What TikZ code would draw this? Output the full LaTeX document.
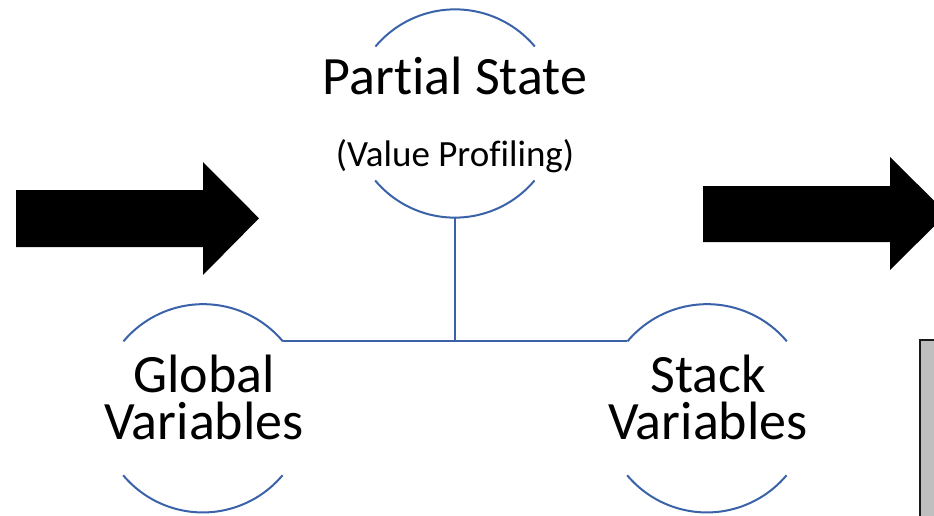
\documentclass[tikz,border=0pt]{standalone}
\usepackage{fontspec}
\setmainfont[Ligatures=NoCommon]{Carlito}
\definecolor{linkblue}{HTML}{3A62A8}
\definecolor{panelgray}{HTML}{BFBFBF}
\definecolor{paneledge}{HTML}{1A1A1A}
\begin{document}
\begin{tikzpicture}[x=1pt,y=-1pt,
  ring/.style={circle,minimum size=208pt,inner sep=0pt},
  arcline/.style={draw=linkblue,line width=2pt},
  bigtext/.style={anchor=base,inner sep=0pt,align=center,
    font=\fontsize{54}{47}\selectfont},
  smalltext/.style={anchor=base,inner sep=0pt,font=\fontsize{37}{44}\selectfont},
  blockarrow/.style={fill=black}]
\useasboundingbox (0,0) rectangle (934,516);
\clip (0,0) rectangle (934,516);

% circles holding the three labels
\node[ring] (ps) at (455,113.5) {};
\node[ring] (gv) at (203,408.3) {};
\node[ring] (sv) at (707,408.3) {};

\foreach \n in {ps,gv,sv}{
  \draw[arcline] (\n.40) arc[start angle=40,end angle=140,radius=104pt];
  \draw[arcline] (\n.220) arc[start angle=220,end angle=320,radius=104pt];
}

% tree connectors
\coordinate (junction) at (ps.south |- gv.40);
\draw[arcline] (ps.south) -- (junction);
\draw[arcline] (gv.40) -- (sv.140);

% labels (base anchor sits on the last line)
\node[bigtext] (pstitle) at (455,94.3) {Partial State};
\node[smalltext] (pssub) at (455,166.7) {(Value Profiling)};
\node[bigtext] (gvtext) at (204,439) {Global\\Variables};
\node[bigtext] (svtext) at (708,439) {Stack\\Variables};

% block arrows
\fill[blockarrow] (16,190) -- (203,190) -- (203,162) -- (259,218.3)
  -- (203,275) -- (203,247) -- (16,247) -- cycle;
\fill[blockarrow] (703,186) -- (890,186) -- (890,157) -- (947,213.5)
  -- (890,270) -- (890,242) -- (703,242) -- cycle;

% grey panel at the right edge
\draw[fill=panelgray,draw=paneledge,line width=2pt] (920,339.5) rectangle (980,560);
\end{tikzpicture}
\end{document}
